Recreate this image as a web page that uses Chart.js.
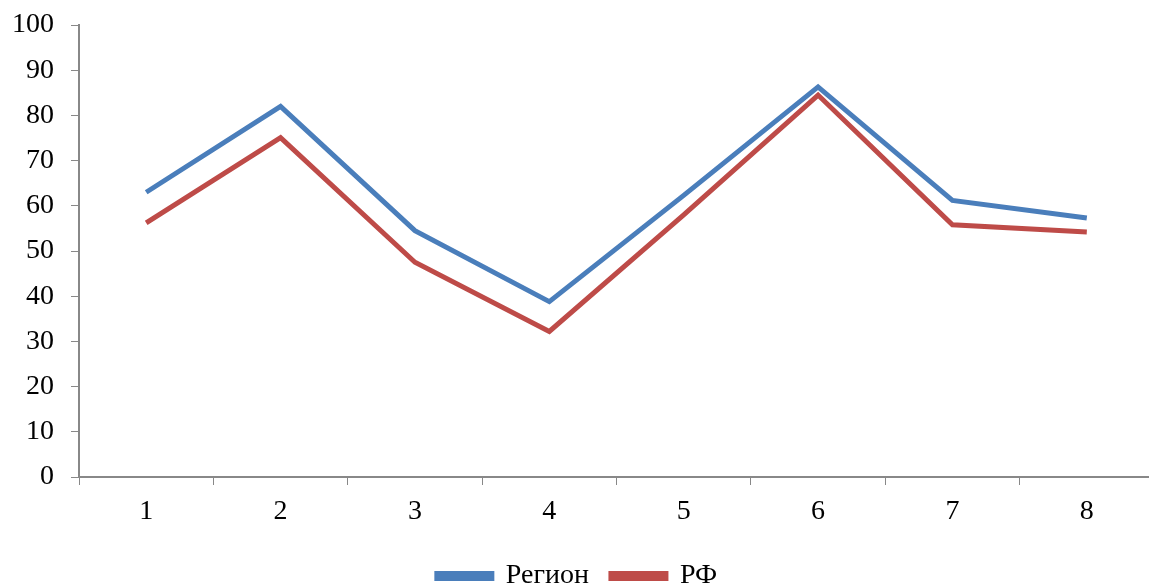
<!DOCTYPE html>
<html>
<head>
<meta charset="utf-8">
<script src="https://cdn.jsdelivr.net/npm/chart.js@4.4.1/dist/chart.umd.min.js"></script>
<style>
  html, body { margin: 0; padding: 0; background: #fff; overflow: hidden; }
  #chartContainer { width: 1154px; height: 600px; }
</style>
</head>
<body>
<div id="chartContainer"><canvas id="lineChart"></canvas></div>
<script>
// data
const categories = ["1", "2", "3", "4", "5", "6", "7", "8"];
const regionValues = [63.0, 82.0, 54.5, 38.8, 62.3, 86.3, 61.2, 57.3];
const rfValues = [56.2, 75.1, 47.5, 32.2, 58.0, 84.5, 55.8, 54.2];
const seriesNames = ["Регион", "РФ"];

const axisColor = "#888888";
const fontFamily = "'Liberation Serif', 'Times New Roman', serif";

Chart.defaults.font.family = fontFamily;
Chart.defaults.font.size = 28;
Chart.defaults.color = "#000";

const ctx = document.getElementById("lineChart").getContext("2d");

window.chart = new Chart(ctx, {
  type: "line",
  data: {
    labels: categories,
    datasets: [
      {
        label: seriesNames[0],
        data: regionValues,
        borderColor: "#4A7EBB",
        backgroundColor: "#4A7EBB",
        borderWidth: 5,
        pointRadius: 0,
        tension: 0,
      },
      {
        label: seriesNames[1],
        data: rfValues,
        borderColor: "#BE4B48",
        backgroundColor: "#BE4B48",
        borderWidth: 5,
        pointRadius: 0,
        tension: 0,
      },
    ],
  },
  options: {
    responsive: true,
    maintainAspectRatio: false,
    animation: false,
    layout: {
      padding: { top: 25, right: 0, left: 0, bottom: 0 },
    },
    plugins: {
      legend: {
        position: "bottom",
        labels: {
          boxWidth: 55,
          boxHeight: 5,
          padding: 22,
          font: { size: 28 },
        },
      },
      tooltip: { enabled: false },
    },
    scales: {
      x: {
        offset: true,
        grid: {
          display: true,
          offset: true,
          drawOnChartArea: false,
          drawTicks: true,
          tickLength: 8,
          color: axisColor,
        },
        border: { color: axisColor, width: 2 },
        ticks: { padding: 10, maxRotation: 0 },
        afterFit: function (scale) {
          scale.height = 63;
        },
      },
      y: {
        min: 0,
        max: 100,
        grid: {
          display: true,
          drawOnChartArea: false,
          drawTicks: true,
          tickLength: 8,
          color: axisColor,
        },
        border: { color: axisColor, width: 2 },
        ticks: { stepSize: 10, padding: 17 },
        afterFit: function (scale) {
          scale.width = 79;
          scale.paddingTop = 0;
          scale.paddingBottom = 0;
        },
      },
    },
  },
});
</script>
</body>
</html>
